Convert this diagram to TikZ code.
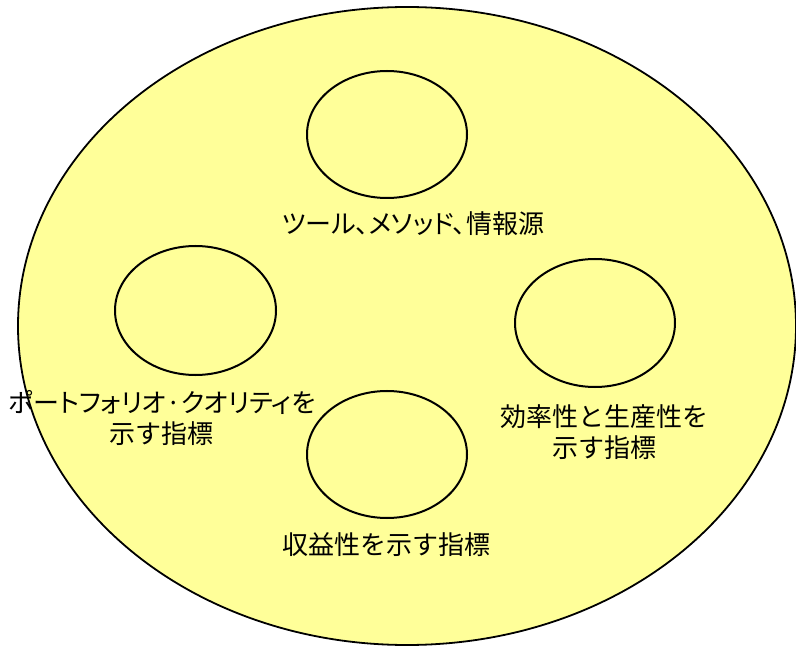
\documentclass[tikz,border=0pt]{standalone}
\usepackage{fontspec}
\newfontfamily\jp{Noto Sans CJK JP}
\newfontfamily\jpp[RawFeature=+palt]{Noto Sans CJK JP}
\definecolor{paleyellow}{HTML}{FFFF99}
\tikzset{
  outer/.style={draw=black, line width=1.8pt, fill=paleyellow},
  inner/.style={draw=black, line width=2pt},
  lbl/.style={font=\fontsize{26}{31}\selectfont\jp, align=center, inner sep=0pt, text=black},
}
\begin{document}
\begin{tikzpicture}[x=1pt,y=-1pt]
\useasboundingbox (0,0) rectangle (796,647);
\fill[white] (0,0) rectangle (796,647);
\draw[outer] (407,326) ellipse [x radius=389, y radius=319];
\draw[inner] (387,134.5) ellipse [x radius=80, y radius=63.5];
\draw[inner] (195.5,310.5) ellipse [x radius=80.5, y radius=64.5];
\draw[inner] (595,323) ellipse [x radius=80, y radius=64];
\draw[inner] (387,454.5) ellipse [x radius=80, y radius=63.5];
\node[lbl, font=\fontsize{26}{31}\selectfont\jpp] (t1) at (413,224) {ツール、メソッド、情報源};
\node[lbl] (t2) at (162,418) {{\jpp ポートフォリオ·クオリティを}\\示す指標};
\node[lbl] (t3) at (604,432) {効率性と生産性を\\示す指標};
\node[lbl] (t4) at (386,545) {収益性を示す指標};
\end{tikzpicture}
\end{document}
